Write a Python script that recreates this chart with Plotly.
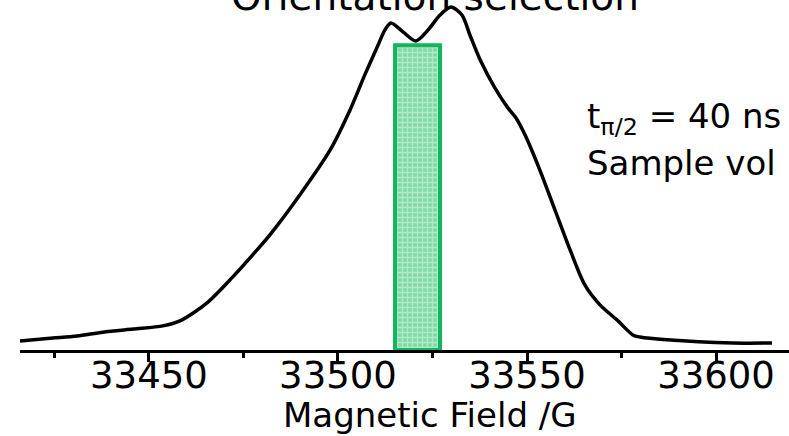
import plotly.graph_objects as go

# Data
field_G = [33415.9, 33424.6, 33431.0, 33437.8, 33445.8, 33453.7, 33458.2, 33465.3,
           33472.2, 33478.6, 33482.0, 33489.9, 33497.9, 33503.2, 33507.1, 33510.6,
           33512.4, 33514.0, 33517.2, 33520.6, 33523.8, 33527.0, 33529.9, 33532.8,
           33534.9, 33537.6, 33541.5, 33545.0, 33547.1, 33549.5, 33553.4, 33557.4,
           33561.4, 33565.3, 33569.3, 33573.8, 33578.0, 33579.9, 33587.0, 33604.5,
           33614.8]
intensity = [0.026, 0.034, 0.040, 0.051, 0.060, 0.069, 0.083, 0.134,
             0.209, 0.286, 0.329, 0.443, 0.571, 0.686, 0.786, 0.871,
             0.914, 0.934, 0.909, 0.883, 0.914, 0.957, 0.980, 0.957,
             0.900, 0.829, 0.749, 0.691, 0.663, 0.614, 0.514, 0.400,
             0.286, 0.186, 0.129, 0.086, 0.043, 0.037, 0.029, 0.020,
             0.020]

# Orientation-selection window
sel_start = 33515.1
sel_end = 33527.0
sel_height = 0.871

tick_vals = [33450, 33500, 33550, 33600]
tick_text = ["33450", "33500", "33550", "33600"]

title_text = "Orientation selection"
xaxis_title = "Magnetic Field /G"
note_lines = ["t<sub>π/2</sub> = 40 ns", "Sample vol"]

FONT = "DejaVu Sans"

fig = go.Figure()

fig.add_trace(go.Bar(
    x=[(sel_start + sel_end) / 2],
    y=[sel_height],
    width=[sel_end - sel_start],
    marker=dict(
        color="#7fdaa6",
        line=dict(color="#12b55c", width=4),
        pattern=dict(shape="+", fgcolor="#e4f8ec", size=5, solidity=0.45),
    ),
    showlegend=False,
    hoverinfo="skip",
))

fig.add_trace(go.Scatter(
    x=field_G, y=intensity, mode="lines",
    line=dict(color="black", width=3.5, shape="spline", smoothing=0.8),
    showlegend=False,
))

fig.update_layout(
    width=789, height=436,
    margin=dict(l=20, r=0, t=0, b=86),
    paper_bgcolor="white", plot_bgcolor="white",
    font=dict(family=FONT, color="black"),
    xaxis=dict(
        range=[33415.9, 33619.3],
        showgrid=False, zeroline=False,
        showline=True, linecolor="black", linewidth=2.5,
        ticks="outside", ticklen=9, tickwidth=3, tickcolor="black",
        tickvals=tick_vals, ticktext=tick_text,
        tickfont=dict(family=FONT, size=37, color="black"),
        ticklabelstandoff=-18,
        minor=dict(tickvals=[33425, 33475, 33525, 33575], ticks="outside",
                   ticklen=5, tickwidth=3, tickcolor="black"),
    ),
    yaxis=dict(range=[0, 1], visible=False),
)

# Axis title (centered on the uncropped plot area)
fig.add_annotation(text=xaxis_title, x=0.533, y=-0.186, xref="paper", yref="paper",
                   xanchor="center", yanchor="middle", showarrow=False,
                   font=dict(family=FONT, size=34, color="black"))
# Chart title (cropped at the top in the reference)
fig.add_annotation(text=title_text, x=0.54, y=1.010, xref="paper", yref="paper",
                   xanchor="center", yanchor="middle", showarrow=False,
                   font=dict(family=FONT, size=39, color="black"))
# Note text
fig.add_annotation(text=note_lines[0], x=(585 - 20) / 769, y=(350 - 118) / 350,
                   xref="paper", yref="paper", xanchor="left", yanchor="middle",
                   showarrow=False, font=dict(family=FONT, size=34, color="black"))
fig.add_annotation(text=note_lines[1], x=(585 - 20) / 769, y=(350 - 163) / 350,
                   xref="paper", yref="paper", xanchor="left", yanchor="middle",
                   showarrow=False, font=dict(family=FONT, size=34, color="black"))

fig.write_html("out.html")
